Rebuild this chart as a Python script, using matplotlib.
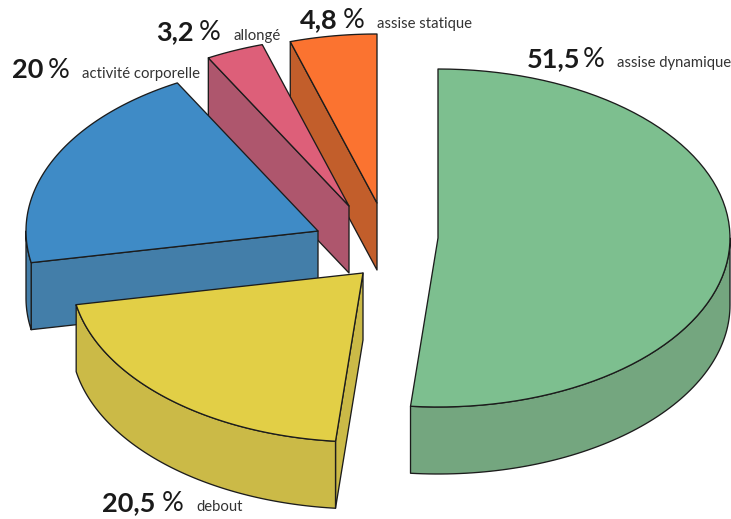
import numpy as np
import matplotlib
matplotlib.use("Agg")
import matplotlib.pyplot as plt

# values, clockwise from 12 o'clock
names = ["assise dynamique", "debout", "activité corporelle", "allongé", "assise statique"]
shares = [51.5, 20.5, 20.0, 3.2, 4.8]

# look of each slice
top_colors = ["#7DBF8F", "#E2CF46", "#3F8BC6", "#DD5F79", "#FB7330"]
side_colors = ["#74A67F", "#CBBA47", "#437EA9", "#AE566D", "#C25E2B"]

# where each slice tip ends up after exploding, in pixels
tips = [(438, 238), (363, 273), (318, 231), (349, 206), (377, 203)]
# percent x, percent sign x, name x, baseline y
text_pos = [(527, 583, 617, 67), (102, 162, 196, 511), (12, 48, 82, 78), (156, 199, 234, 40), (300, 343, 377, 28)]

rx = 292
ry = 169
depth = 67
edge = "#1c1c1c"


def rim(cx, cy, a, b):
    t = np.radians(np.linspace(a, b, 80))
    return cx + rx * np.sin(t), cy - ry * np.cos(t)


def face(xs, ys, color):
    ax.fill(xs, ys, facecolor=color, edgecolor=edge, linewidth=0.95, joinstyle="round")


fig = plt.figure(figsize=(7.31, 5.19), dpi=100)
ax = fig.add_axes([0, 0, 1, 1])
ax.set_xlim(0, 731)
ax.set_ylim(519, 0)
ax.axis("off")

ends = np.cumsum(shares) * 3.6
starts = ends - np.array(shares) * 3.6

# back slices first so the front ones cover them
for i in range(len(shares) - 1, -1, -1):
    cx, cy = tips[i]
    a, b = starts[i], ends[i]

    # cut faces, only the ones turned towards the viewer
    for ang, show in [(a, np.sin(np.radians(a)) < -1e-6), (b, np.sin(np.radians(b)) > 1e-6)]:
        if show:
            x, y = rim(cx, cy, ang, ang)
            face([cx, x[0], x[0], cx], [cy, y[0], y[0] + depth, cy + depth], side_colors[i])

    # outer wall, front half of the ellipse only
    lo, hi = max(a, 90), min(b, 270)
    if lo < hi:
        x, y = rim(cx, cy, lo, hi)
        face(np.r_[x, x[::-1]], np.r_[y, y[::-1] + depth], side_colors[i])

    x, y = rim(cx, cy, a, b)
    face(np.r_[cx, x], np.r_[cy, y], top_colors[i])

for i in range(len(shares)):
    x_num, x_pct, x_name, y_base = text_pos[i]
    num = f"{shares[i]:g}".replace(".", ",")
    ax.text(x_num, y_base, num, family="Lato", weight="bold", fontsize=19.5, color="#1a1a1a", va="baseline")
    ax.text(x_pct, y_base, "%", family="Lato", fontsize=19.5, color="#1a1a1a", va="baseline")
    ax.text(x_name, y_base, names[i], family="Lato", fontsize=10.7, color="#333333", va="baseline")

fig.savefig("out.png", dpi=100)
